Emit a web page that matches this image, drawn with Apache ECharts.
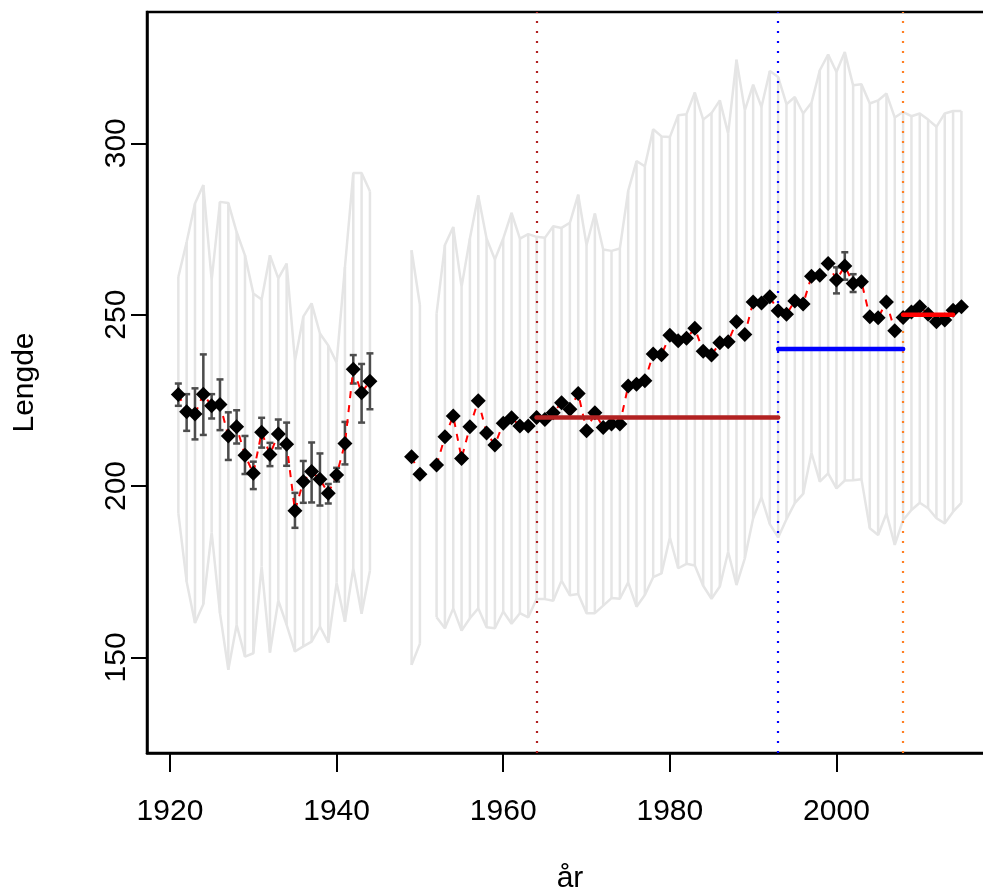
<!DOCTYPE html>
<html><head><meta charset="utf-8">
<script src="https://cdn.jsdelivr.net/npm/echarts@6/dist/echarts.min.js"></script>
<style>html,body{margin:0;padding:0;background:#fff;overflow:hidden}#c{width:983px;height:890px}</style>
</head><body><div id="c"></div>
<script>
// ---- data ----
const years = [1921,1922,1923,1924,1925,1926,1927,1928,1929,1930,1931,1932,1933,1934,1935,1936,1937,1938,1939,1940,1941,1942,1943,1944,
  1949,1950,1952,1953,1954,1955,1956,1957,1958,1959,1960,1961,1962,1963,1964,1965,1966,1967,1968,1969,1970,1971,1972,1973,1974,
  1975,1976,1977,1978,1979,1980,1981,1982,1983,1984,1985,1986,1987,1988,1989,1990,1991,1992,1993,1994,1995,1996,1997,1998,1999,
  2000,2001,2002,2003,2004,2005,2006,2007,2008,2009,2010,2011,2012,2013,2014,2015];
const meanLen = [226.7,221.7,221.0,226.8,223.4,223.8,214.6,217.3,209.0,203.7,215.7,209.2,215.2,212.2,192.8,201.3,204.2,202.0,197.9,203.2,212.4,234.1,227.2,230.6,
  208.5,203.4,206.1,214.4,220.4,208.0,217.3,224.9,215.5,212.0,218.3,219.9,217.5,217.5,220.0,219.4,221.4,224.3,222.4,227.0,216.1,221.4,217.1,218.1,218.1,
  229.2,229.7,230.7,238.5,238.3,244.0,242.4,243.1,246.0,239.3,238.2,241.8,242.1,247.9,244.2,253.7,253.4,255.2,251.1,250.1,254.0,253.1,261.2,261.5,264.9,
  260.1,264.2,259.1,259.6,249.4,249.1,253.7,245.3,249.2,250.8,252.3,250.1,247.9,248.4,251.3,252.3];
const highLen = [261.0,271.2,282.4,287.8,260.1,282.9,282.6,274.1,267.3,256.2,254.4,267.3,260.6,264.9,236.5,249.4,253.3,244.5,241.0,236.0,263.9,291.3,291.3,286.0,
  268.8,252.8,250.3,270.3,275.6,258.1,272.2,284.8,272.2,266.1,272.2,279.7,272.2,273.5,272.7,272.4,275.8,275.3,276.8,285.0,270.3,279.5,269.0,268.6,269.3,
  286.1,294.8,293.3,304.1,302.0,301.8,308.2,308.5,314.8,306.9,308.8,312.5,302.8,324.4,309.6,317.1,310.6,321.1,319.3,311.4,313.5,308.7,311.8,321.3,325.9,
  320.8,326.6,316.9,317.2,311.6,312.5,314.5,307.5,309.1,307.9,308.7,306.9,304.8,308.7,309.4,309.4];
const lowLen = [192.1,172.1,160.0,165.5,186.5,162.9,146.4,159.5,150.2,151.2,176.5,151.4,166.6,159.5,151.7,153.2,154.6,159.0,154.3,171.8,160.4,176.0,162.7,175.3,
  147.8,154.0,161.7,158.5,164.3,157.8,161.4,164.3,158.8,158.5,163.4,159.8,162.9,161.7,167.0,167.0,166.5,172.4,168.1,168.5,162.9,162.9,165.1,167.3,167.1,
  171.9,164.8,168.2,173.4,174.5,185.0,176.0,177.3,176.8,170.9,167.1,170.7,180.8,171.1,178.9,190.6,196.7,188.9,185.0,190.3,195.0,197.7,209.7,201.3,203.7,
  199.3,201.6,201.7,202.0,187.7,185.7,192.0,182.8,190.1,193.0,195.1,193.5,190.6,189.1,192.5,195.1];
// error bars: year, lower, upper
const errYears = [1921,1922,1923,1924,1925,1926,1927,1928,1929,1930,1931,1932,1933,1934,1935,1936,1937,1938,1939,1940,1941,1942,1943,1944,2000,2001,2002];
const errLow  = [223.4,216.1,213.6,214.9,219.7,216.3,207.6,212.4,203.5,199.1,211.2,205.8,211.0,205.9,187.8,195.1,195.2,194.3,194.9,201.3,206.3,229.9,218.5,222.4,256.2,260.2,256.6];
const errHigh = [229.9,226.8,228.5,238.4,226.8,231.1,221.5,222.1,214.6,207.1,219.9,212.6,219.4,218.5,198.0,207.3,212.7,209.5,200.6,205.3,218.7,238.2,235.6,238.7,263.8,268.2,261.8];
// period levels
const periodStart = [1964, 1993, 2008];
const periodEnd   = [1993, 2008, 2014];
const periodLevel = [220, 240, 250];
const periodColor = ['#B22222', '#0000FF', '#FF0000'];
const breakYears  = [1964, 1993, 2008];
const breakColor  = ['#B22222', '#0000FF', '#FF7F24'];
const xTicks = [1920, 1940, 1960, 1980, 2000];
const yTicks = [150, 200, 250, 300];

// ---- build ----
function withGaps(vals) {
  const out = [];
  for (let i = 0; i < years.length; i++) {
    if (i > 0 && years[i] - years[i - 1] > 1) out.push('-');
    out.push([years[i], vals[i]]);
  }
  return out;
}
const FONT = 'Liberation Sans, Arial, sans-serif';
const GRAY = '#E5E5E5';

const series = [];
// vertical band lines
series.push({
  type: 'custom', silent: true, z: 1,
  data: years.map((y, i) => [y, lowLen[i], highLen[i]]),
  encode: { x: 0, y: [1, 2] },
  renderItem: (p, api) => {
    const a = api.coord([api.value(0), api.value(1)]);
    const b = api.coord([api.value(0), api.value(2)]);
    return { type: 'line', shape: { x1: a[0], y1: a[1], x2: b[0], y2: b[1] }, style: { stroke: GRAY, lineWidth: 2.5 } };
  }
});
// band envelopes
[highLen, lowLen].forEach(arr => series.push({
  type: 'line', data: withGaps(arr), symbol: 'none', silent: true, z: 1,
  lineStyle: { color: GRAY, width: 2.5 }, connectNulls: false, animation: false
}));
// vertical dotted break lines
series.push({
  type: 'line', data: [], silent: true, z: 2,
  markLine: {
    silent: true, symbol: ['none', 'none'], label: { show: false }, animation: false,
    data: breakYears.map((y, i) => ({ xAxis: y, lineStyle: { color: breakColor[i], width: 2.2, type: [2, 8] } }))
  }
});
// error bars
series.push({
  type: 'custom', silent: true, z: 3,
  data: errYears.map((y, i) => [y, errLow[i], errHigh[i]]),
  encode: { x: 0, y: [1, 2] },
  renderItem: (p, api) => {
    const a = api.coord([api.value(0), api.value(1)]);
    const b = api.coord([api.value(0), api.value(2)]);
    const st = { stroke: '#4D4D4D', lineWidth: 2.5 };
    const w = 3.5;
    return { type: 'group', children: [
      { type: 'line', shape: { x1: a[0], y1: a[1], x2: b[0], y2: b[1] }, style: st },
      { type: 'line', shape: { x1: a[0] - w, y1: a[1], x2: a[0] + w, y2: a[1] }, style: st },
      { type: 'line', shape: { x1: b[0] - w, y1: b[1], x2: b[0] + w, y2: b[1] }, style: st }
    ]};
  }
});
// dashed mean line
series.push({
  type: 'line', data: withGaps(meanLen), symbol: 'none', silent: true, z: 4, connectNulls: false,
  lineStyle: { color: '#FF0000', width: 2, type: [7, 7] }, animation: false
});
// points
series.push({
  type: 'scatter', data: years.map((y, i) => [y, meanLen[i]]), symbol: 'diamond', symbolSize: 15,
  itemStyle: { color: '#000', opacity: 1 }, silent: true, z: 5, animation: false
});
// period level segments
periodLevel.forEach((lv, i) => series.push({
  type: 'line', data: [[periodStart[i], lv], [periodEnd[i], lv]], symbol: 'none', silent: true, z: 6,
  lineStyle: { color: periodColor[i], width: 4.5, cap: 'round' }, animation: false
}));

const chart = echarts.init(document.getElementById('c'), null, { renderer: 'canvas' });
chart.setOption({
  animation: false,
  backgroundColor: '#fff',
  grid: { left: 147, top: 12, width: 846, height: 741, show: true, borderColor: '#000', borderWidth: 2.5,
          backgroundColor: 'transparent', containLabel: false, outerBoundsMode: 'none' },
  xAxis: {
    type: 'value', min: 1917.24, max: 2018.79,
    name: 'år', nameLocation: 'middle', nameGap: 111,
    nameTextStyle: { fontFamily: FONT, fontSize: 30, color: '#000' },
    axisLine: { show: true, lineStyle: { color: '#000', width: 2.5 } },
    axisTick: { show: true, customValues: xTicks, length: 19, lineStyle: { color: '#000', width: 2 } },
    axisLabel: { customValues: xTicks, formatter: v => String(v), fontFamily: FONT, fontSize: 30, color: '#000', margin: 44 },
    splitLine: { show: false }
  },
  yAxis: {
    type: 'value', min: 122.1, max: 338.3,
    name: 'Lengde', nameLocation: 'middle', nameGap: 107, nameRotate: 90,
    nameTextStyle: { fontFamily: FONT, fontSize: 30, color: '#000' },
    axisLine: { show: true, lineStyle: { color: '#000', width: 2.5 } },
    axisTick: { show: true, customValues: yTicks, length: 16, lineStyle: { color: '#000', width: 2 } },
    axisLabel: { customValues: yTicks, formatter: v => String(v), rotate: 90, fontFamily: FONT, fontSize: 30, color: '#000', margin: 15 },
    splitLine: { show: false }
  },
  series: series
});
</script>
</body></html>
